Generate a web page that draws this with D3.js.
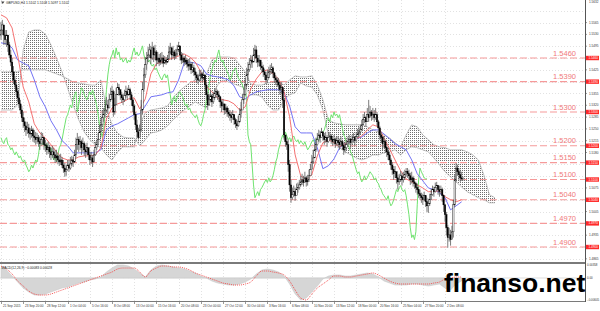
<!DOCTYPE html>
<html>
<head>
<meta charset="utf-8">
<script src="https://cdn.jsdelivr.net/npm/d3@7"></script>
<style>
  body { margin: 0; background: #fff; }
  svg { display: block; font-family: "Liberation Sans", Arial, sans-serif; }
</style>
</head>
<body>
<div id="chart"></div>
<script>
// GBPUSD H4, one value per bar
const firstOpen = 1.5528;
const close = [
  1.5543,1.5558,1.5528,1.5514,1.5528,1.5499,1.5469,1.5448,1.5419,1.5395,
  1.5380,1.5360,1.5342,1.5324,1.5306,1.5283,1.5271,1.5259,1.5247,1.5253,
  1.5238,1.5235,1.5247,1.5229,1.5224,1.5218,1.5224,1.5212,1.5206,1.5218,
  1.5224,1.5203,1.5200,1.5188,1.5194,1.5182,1.5173,1.5182,1.5173,1.5164,
  1.5170,1.5158,1.5152,1.5158,1.5143,1.5134,1.5123,1.5129,1.5143,1.5134,
  1.5146,1.5158,1.5152,1.5173,1.5203,1.5218,1.5203,1.5212,1.5194,1.5206,
  1.5188,1.5182,1.5194,1.5173,1.5158,1.5164,1.5152,1.5173,1.5194,1.5203,
  1.5218,1.5241,1.5262,1.5283,1.5292,1.5306,1.5321,1.5312,1.5336,1.5351,
  1.5360,1.5300,1.5321,1.5351,1.5372,1.5366,1.5351,1.5342,1.5336,1.5348,
  1.5360,1.5351,1.5366,1.5351,1.5336,1.5318,1.5292,1.5262,1.5241,1.5224,
  1.5247,1.5306,1.5366,1.5410,1.5440,1.5460,1.5469,1.5484,1.5460,1.5490,
  1.5469,1.5478,1.5454,1.5460,1.5448,1.5454,1.5460,1.5445,1.5454,1.5448,
  1.5457,1.5478,1.5490,1.5469,1.5478,1.5466,1.5472,1.5484,1.5496,1.5469,
  1.5454,1.5460,1.5448,1.5454,1.5442,1.5436,1.5442,1.5425,1.5431,1.5419,
  1.5410,1.5401,1.5395,1.5407,1.5413,1.5401,1.5410,1.5380,1.5351,1.5321,
  1.5336,1.5348,1.5330,1.5342,1.5354,1.5360,1.5351,1.5345,1.5330,1.5318,
  1.5324,1.5306,1.5312,1.5300,1.5294,1.5289,1.5283,1.5292,1.5277,1.5265,
  1.5259,1.5271,1.5292,1.5306,1.5336,1.5351,1.5380,1.5410,1.5425,1.5440,
  1.5454,1.5448,1.5469,1.5484,1.5460,1.5448,1.5454,1.5436,1.5431,1.5419,
  1.5410,1.5395,1.5401,1.5419,1.5425,1.5431,1.5416,1.5401,1.5395,1.5389,
  1.5380,1.5366,1.5372,1.5336,1.5232,1.5212,1.5203,1.5144,1.5084,1.5046,
  1.5055,1.5064,1.5052,1.5070,1.5076,1.5084,1.5093,1.5099,1.5091,1.5105,
  1.5093,1.5099,1.5111,1.5129,1.5152,1.5164,1.5188,1.5203,1.5218,1.5232,
  1.5224,1.5241,1.5229,1.5218,1.5224,1.5212,1.5224,1.5229,1.5218,1.5212,
  1.5218,1.5206,1.5215,1.5209,1.5203,1.5212,1.5200,1.5188,1.5194,1.5203,
  1.5212,1.5218,1.5209,1.5218,1.5224,1.5215,1.5227,1.5235,1.5241,1.5247,
  1.5262,1.5277,1.5283,1.5271,1.5292,1.5283,1.5300,1.5289,1.5294,1.5283,
  1.5292,1.5271,1.5253,1.5232,1.5224,1.5206,1.5212,1.5194,1.5182,1.5173,
  1.5158,1.5143,1.5129,1.5117,1.5123,1.5105,1.5093,1.5099,1.5111,1.5099,
  1.5105,1.5114,1.5123,1.5117,1.5111,1.5099,1.5105,1.5093,1.5088,1.5076,
  1.5070,1.5058,1.5052,1.5046,1.5040,1.5052,1.5034,1.5022,1.5028,1.5040,
  1.5055,1.5070,1.5064,1.5076,1.5082,1.5070,1.5064,1.5070,1.5052,1.5025,
  1.4996,1.4957,1.4928,1.4936,1.4922,1.4945,1.5025,1.5099,1.5134,1.5123,
  1.5114,1.5105,1.5102,1.5102
];
const high = [
  1.5567,1.5573,1.5558,1.5543,1.5543,1.5528,1.5508,1.5484,1.5460,1.5436,
  1.5407,1.5389,1.5372,1.5354,1.5336,1.5318,1.5300,1.5283,1.5271,1.5271,
  1.5265,1.5253,1.5259,1.5253,1.5247,1.5241,1.5238,1.5232,1.5227,1.5241,
  1.5238,1.5224,1.5218,1.5209,1.5212,1.5203,1.5194,1.5200,1.5194,1.5188,
  1.5188,1.5179,1.5173,1.5176,1.5167,1.5158,1.5149,1.5143,1.5158,1.5158,
  1.5167,1.5170,1.5167,1.5188,1.5224,1.5238,1.5227,1.5229,1.5218,1.5224,
  1.5212,1.5203,1.5209,1.5194,1.5182,1.5182,1.5173,1.5188,1.5212,1.5218,
  1.5238,1.5262,1.5283,1.5306,1.5312,1.5336,1.5345,1.5336,1.5354,1.5372,
  1.5378,1.5366,1.5342,1.5372,1.5386,1.5383,1.5366,1.5360,1.5354,1.5366,
  1.5378,1.5372,1.5380,1.5372,1.5360,1.5342,1.5324,1.5300,1.5277,1.5253,
  1.5262,1.5336,1.5389,1.5431,1.5463,1.5478,1.5493,1.5502,1.5496,1.5508,
  1.5496,1.5499,1.5484,1.5478,1.5472,1.5475,1.5478,1.5469,1.5466,1.5463,
  1.5469,1.5496,1.5505,1.5493,1.5496,1.5484,1.5487,1.5499,1.5508,1.5490,
  1.5478,1.5475,1.5466,1.5469,1.5460,1.5457,1.5460,1.5448,1.5448,1.5440,
  1.5431,1.5419,1.5413,1.5425,1.5425,1.5419,1.5425,1.5407,1.5389,1.5360,
  1.5354,1.5366,1.5354,1.5360,1.5369,1.5372,1.5366,1.5363,1.5348,1.5336,
  1.5339,1.5324,1.5324,1.5318,1.5312,1.5306,1.5300,1.5306,1.5294,1.5283,
  1.5277,1.5289,1.5312,1.5330,1.5354,1.5372,1.5401,1.5431,1.5448,1.5460,
  1.5469,1.5466,1.5490,1.5499,1.5496,1.5469,1.5469,1.5454,1.5448,1.5440,
  1.5428,1.5419,1.5425,1.5434,1.5440,1.5445,1.5436,1.5419,1.5410,1.5404,
  1.5401,1.5389,1.5389,1.5372,1.5342,1.5229,1.5224,1.5218,1.5158,1.5099,
  1.5076,1.5082,1.5076,1.5088,1.5091,1.5099,1.5111,1.5117,1.5111,1.5123,
  1.5111,1.5114,1.5129,1.5146,1.5173,1.5188,1.5209,1.5224,1.5238,1.5247,
  1.5244,1.5253,1.5244,1.5238,1.5241,1.5232,1.5241,1.5241,1.5235,1.5229,
  1.5232,1.5224,1.5229,1.5227,1.5221,1.5227,1.5218,1.5209,1.5212,1.5218,
  1.5227,1.5232,1.5224,1.5232,1.5238,1.5229,1.5241,1.5250,1.5256,1.5262,
  1.5277,1.5294,1.5300,1.5289,1.5312,1.5336,1.5318,1.5306,1.5312,1.5306,
  1.5312,1.5300,1.5277,1.5259,1.5241,1.5229,1.5229,1.5218,1.5200,1.5194,
  1.5182,1.5164,1.5152,1.5140,1.5140,1.5123,1.5114,1.5117,1.5126,1.5120,
  1.5123,1.5129,1.5134,1.5134,1.5129,1.5120,1.5123,1.5111,1.5105,1.5093,
  1.5088,1.5079,1.5070,1.5061,1.5058,1.5064,1.5052,1.5046,1.5043,1.5058,
  1.5073,1.5082,1.5079,1.5091,1.5093,1.5084,1.5082,1.5082,1.5076,1.5055,
  1.5028,1.5004,1.4966,1.4957,1.4951,1.4963,1.5040,1.5114,1.5149,1.5144,
  1.5134,1.5129,1.5123,1.5108
];
const low = [
  1.5514,1.5528,1.5499,1.5499,1.5493,1.5478,1.5460,1.5436,1.5407,1.5383,
  1.5372,1.5348,1.5330,1.5312,1.5294,1.5271,1.5253,1.5241,1.5229,1.5235,
  1.5224,1.5218,1.5224,1.5212,1.5209,1.5203,1.5206,1.5197,1.5188,1.5200,
  1.5203,1.5188,1.5182,1.5173,1.5176,1.5164,1.5158,1.5164,1.5158,1.5149,
  1.5152,1.5146,1.5140,1.5143,1.5134,1.5120,1.5108,1.5111,1.5126,1.5123,
  1.5129,1.5140,1.5137,1.5149,1.5164,1.5188,1.5182,1.5188,1.5173,1.5182,
  1.5170,1.5164,1.5173,1.5158,1.5143,1.5146,1.5137,1.5152,1.5170,1.5188,
  1.5200,1.5218,1.5241,1.5259,1.5271,1.5283,1.5300,1.5294,1.5312,1.5330,
  1.5336,1.5286,1.5292,1.5336,1.5351,1.5348,1.5336,1.5327,1.5321,1.5330,
  1.5342,1.5336,1.5348,1.5336,1.5318,1.5300,1.5277,1.5247,1.5227,1.5218,
  1.5224,1.5241,1.5292,1.5360,1.5401,1.5425,1.5448,1.5460,1.5442,1.5454,
  1.5448,1.5454,1.5436,1.5442,1.5436,1.5440,1.5442,1.5433,1.5442,1.5440,
  1.5445,1.5460,1.5472,1.5454,1.5460,1.5454,1.5457,1.5466,1.5478,1.5454,
  1.5442,1.5445,1.5436,1.5440,1.5431,1.5422,1.5425,1.5413,1.5416,1.5407,
  1.5395,1.5386,1.5383,1.5389,1.5395,1.5389,1.5395,1.5366,1.5336,1.5306,
  1.5318,1.5330,1.5315,1.5324,1.5336,1.5342,1.5336,1.5330,1.5312,1.5300,
  1.5306,1.5292,1.5294,1.5286,1.5283,1.5274,1.5268,1.5277,1.5262,1.5253,
  1.5247,1.5256,1.5268,1.5283,1.5306,1.5324,1.5348,1.5372,1.5395,1.5419,
  1.5431,1.5431,1.5448,1.5460,1.5445,1.5433,1.5436,1.5425,1.5416,1.5404,
  1.5395,1.5383,1.5386,1.5401,1.5410,1.5413,1.5401,1.5386,1.5380,1.5374,
  1.5366,1.5351,1.5354,1.5312,1.5218,1.5197,1.5188,1.5123,1.5064,1.5031,
  1.5040,1.5049,1.5037,1.5055,1.5061,1.5070,1.5079,1.5084,1.5079,1.5091,
  1.5079,1.5082,1.5093,1.5111,1.5134,1.5146,1.5164,1.5182,1.5200,1.5212,
  1.5209,1.5224,1.5215,1.5203,1.5209,1.5197,1.5209,1.5215,1.5206,1.5200,
  1.5203,1.5194,1.5200,1.5194,1.5188,1.5197,1.5188,1.5173,1.5179,1.5188,
  1.5197,1.5203,1.5194,1.5203,1.5209,1.5200,1.5212,1.5224,1.5227,1.5232,
  1.5247,1.5262,1.5268,1.5256,1.5277,1.5271,1.5286,1.5274,1.5277,1.5271,
  1.5277,1.5259,1.5235,1.5218,1.5209,1.5188,1.5194,1.5179,1.5167,1.5158,
  1.5143,1.5129,1.5114,1.5099,1.5105,1.5088,1.5070,1.5084,1.5093,1.5082,
  1.5091,1.5099,1.5108,1.5105,1.5099,1.5084,1.5088,1.5079,1.5073,1.5061,
  1.5055,1.5046,1.5040,1.5031,1.5025,1.5037,1.5019,1.5004,1.5001,1.5022,
  1.5040,1.5052,1.5049,1.5061,1.5067,1.5055,1.5049,1.5055,1.5034,1.5004,
  1.4975,1.4934,1.4898,1.4916,1.4904,1.4922,1.4928,1.5019,1.5093,1.5111,
  1.5099,1.5093,1.5096,1.5097
];

// Ichimoku and MACD, read every 4 bars
const sampleStep = 4;
const tenkan = [
  1.5588,1.5579,1.5549,1.5469,1.5374,1.5330,1.5265,1.5238,1.5223,1.5203,
  1.5182,1.5164,1.5158,1.5158,1.5167,1.5170,1.5170,1.5173,1.5194,1.5280,
  1.5312,1.5324,1.5330,1.5339,1.5342,1.5309,1.5339,1.5413,1.5443,1.5448,
  1.5454,1.5460,1.5466,1.5472,1.5463,1.5448,1.5419,1.5377,1.5360,1.5342,
  1.5336,1.5333,1.5324,1.5306,1.5315,1.5369,1.5398,1.5419,1.5425,1.5413,
  1.5398,1.5360,1.5286,1.5173,1.5111,1.5099,1.5114,1.5170,1.5209,1.5218,
  1.5209,1.5197,1.5206,1.5215,1.5221,1.5229,1.5247,1.5262,1.5256,1.5223,
  1.5191,1.5158,1.5126,1.5102,1.5093,1.5084,1.5075,1.5064,1.5064,1.5067,
  1.5049,1.5040,1.5034,1.5040
];
const kijun = [
  1.5505,1.5502,1.5490,1.5454,1.5445,1.5437,1.5395,1.5345,1.5315,1.5274,
  1.5247,1.5215,1.5200,1.5179,1.5179,1.5179,1.5179,1.5179,1.5188,1.5247,
  1.5259,1.5265,1.5274,1.5283,1.5292,1.5295,1.5318,1.5345,1.5348,1.5351,
  1.5357,1.5360,1.5395,1.5445,1.5448,1.5445,1.5437,1.5413,1.5407,1.5404,
  1.5401,1.5395,1.5377,1.5345,1.5339,1.5351,1.5360,1.5363,1.5366,1.5366,
  1.5366,1.5357,1.5318,1.5256,1.5238,1.5238,1.5238,1.5194,1.5132,1.5141,
  1.5161,1.5194,1.5206,1.5212,1.5221,1.5226,1.5238,1.5247,1.5247,1.5235,
  1.5221,1.5206,1.5197,1.5188,1.5158,1.5117,1.5096,1.5075,1.5070,1.5061,
  1.5046,1.5010,1.5022,1.5034
];
const senkouA = [
  1.5306,1.5306,1.5306,1.5321,1.5484,1.5537,1.5543,1.5543,1.5531,1.5499,
  1.5460,1.5419,1.5371,1.5321,1.5277,1.5241,1.5218,1.5203,1.5194,1.5173,
  1.5158,1.5182,1.5197,1.5197,1.5197,1.5262,1.5298,1.5306,1.5309,1.5312,
  1.5318,1.5342,1.5360,1.5374,1.5386,1.5395,1.5404,1.5410,1.5454,1.5463,
  1.5463,1.5463,1.5460,1.5440,1.5419,1.5383,1.5380,1.5380,1.5386,1.5389,
  1.5389,1.5380,1.5395,1.5407,1.5404,1.5404,1.5407,1.5380,1.5336,1.5277,
  1.5268,1.5265,1.5262,1.5262,1.5262,1.5262,1.5256,1.5247,1.5241,1.5232,
  1.5223,1.5209,1.5197,1.5232,1.5262,1.5256,1.5232,1.5218,1.5203,1.5197,
  1.5194,1.5188,1.5188,1.5188,1.5182,1.5173,1.5158,1.5114,1.5055,1.5046
];
const senkouB = [
  1.5419,1.5419,1.5419,1.5419,1.5425,1.5425,1.5425,1.5425,1.5425,1.5419,
  1.5413,1.5407,1.5398,1.5389,1.5386,1.5383,1.5380,1.5380,1.5395,1.5312,
  1.5262,1.5238,1.5226,1.5223,1.5223,1.5200,1.5218,1.5238,1.5241,1.5247,
  1.5259,1.5277,1.5292,1.5306,1.5318,1.5330,1.5321,1.5312,1.5336,1.5380,
  1.5395,1.5389,1.5383,1.5377,1.5371,1.5351,1.5351,1.5345,1.5321,1.5306,
  1.5306,1.5336,1.5351,1.5357,1.5386,1.5377,1.5374,1.5351,1.5306,1.5232,
  1.5218,1.5194,1.5182,1.5173,1.5164,1.5158,1.5164,1.5173,1.5173,1.5179,
  1.5182,1.5188,1.5173,1.5188,1.5197,1.5194,1.5188,1.5182,1.5164,1.5144,
  1.5123,1.5108,1.5093,1.5078,1.5064,1.5055,1.5046,1.5040,1.5031,1.5031
];
const macdMain = [
  0.00275,0.00220,0.00055,-0.00110,-0.00275,-0.00385,-0.00468,-0.00468,-0.00440,-0.00385,
  -0.00330,-0.00275,-0.00248,-0.00193,-0.00138,-0.00110,-0.00055,-0.00028,0.00028,0.00165,
  0.00275,0.00358,0.00358,0.00330,0.00248,0.00138,0.00028,0.00220,0.00330,0.00358,
  0.00330,0.00303,0.00275,0.00248,0.00193,0.00138,0.00055,0,-0.00083,-0.00138,
  -0.00165,-0.00193,-0.00193,-0.00165,-0.00110,-0.00028,0.00110,0.00220,0.00248,0.00220,
  0.00165,0.00055,-0.00165,-0.00440,-0.00605,-0.00550,-0.00385,-0.00220,-0.00028,0.00055,
  0.00083,0.00083,0.00055,0.00055,0.00083,0.00110,0.00138,0.00110,0.00028,-0.00083,
  -0.00138,-0.00193,-0.00193,-0.00193,-0.00165,-0.00165,-0.00193,-0.00220,-0.00193,-0.00165,
  -0.00275,-0.00330,-0.00165,-0.00083
];
const macdSignal = [
  0.00330,0.00248,0.00110,-0.00083,-0.00220,-0.00358,-0.00440,-0.00468,-0.00468,-0.00440,
  -0.00385,-0.00330,-0.00275,-0.00220,-0.00165,-0.00110,-0.00055,0,0.00055,0.00110,
  0.00165,0.00248,0.00275,0.00275,0.00275,0.00165,0.00028,0.00193,0.00275,0.00330,
  0.00330,0.00303,0.00303,0.00275,0.00220,0.00138,0.00083,0.00028,-0.00028,-0.00083,
  -0.00138,-0.00165,-0.00193,-0.00193,-0.00165,-0.00110,0.00055,0.00193,0.00193,0.00165,
  0.00138,0.00083,-0.00083,-0.00330,-0.00550,-0.00605,-0.00440,-0.00275,-0.00165,-0.00055,
  0.00055,0.00055,0.00028,0.00028,0.00055,0.00083,0.00110,0.00138,0.00083,0,
  -0.00083,-0.00138,-0.00165,-0.00165,-0.00165,-0.00165,-0.00165,-0.00165,-0.00138,-0.00110,
  -0.00028,0,0.00028,0.00028
];

const levels = [1.5460, 1.5390, 1.5300, 1.5200, 1.5150, 1.5100, 1.5040, 1.4970, 1.4900];
const priceTicks = [1.4865,1.4900,1.4935,1.4970,1.5005,1.5040,1.5075,1.5110,1.5145,1.5180,1.5215,
                    1.5250,1.5285,1.5320,1.5355,1.5390,1.5425,1.5460,1.5495,1.5530,1.5565,1.5600];
const topPrice = 1.5632;
const macdTicks = [0.00358, 0, -0.00605];
const dateLabels = ['21 Sep 2015','23 Sep 20:00','28 Sep 12:00','1 Oct 04:00','5 Oct 16:00','8 Oct 08:00',
  '13 Oct 00:00','15 Oct 16:00','20 Oct 08:00','23 Oct 00:00','27 Oct 12:00','30 Oct 04:00','3 Nov 16:00',
  '6 Nov 08:00','10 Nov 20:00','13 Nov 12:00','18 Nov 00:00','20 Nov 16:00','25 Nov 04:00','27 Nov 20:00','2 Dec 08:00'];
const barsPerLabel = 16;
const symbol = 'GBPUSD,H4';
const watermark = 'finanso.net';

const width = 600, height = 311;
const axisX = 585;
const mainBottom = 262;
const macdTop = 264, macdBottom = 301;
const tinyFont = 3.1;

const xScale = d3.scaleLinear().domain([0, 420]).range([1, 583.75]);
const yScale = d3.scaleLinear().domain([1.48556, 1.56319]).range([mainBottom, 0]);
const mScale = d3.scaleLinear().domain([-0.00605, 0.00358]).range([300, 265]);
const f4 = d3.format('.4f');
const f5 = d3.format('.5f');

const svg = d3.select('#chart').append('svg')
  .attr('width', width).attr('height', height);

const defs = svg.append('defs');
const pat = defs.append('pattern').attr('id', 'kumo')
  .attr('patternUnits', 'userSpaceOnUse').attr('width', 2).attr('height', 2);
pat.append('rect').attr('width', 1).attr('height', 1).attr('fill', '#6e6e6e');
defs.append('clipPath').attr('id', 'mainClip')
  .append('rect').attr('width', axisX).attr('height', mainBottom);
defs.append('clipPath').attr('id', 'macdClip')
  .append('rect').attr('y', macdTop).attr('width', axisX).attr('height', macdBottom - macdTop);

// grid
const grid = svg.append('g').attr('stroke', '#cfcfcf').attr('stroke-dasharray', '1,2').attr('stroke-width', 0.6);
dateLabels.forEach((d, k) => {
  const gx = Math.round(xScale(k * barsPerLabel)) + 0.5;
  grid.append('line').attr('x1', gx).attr('x2', gx).attr('y1', 0).attr('y2', macdBottom);
});
priceTicks.forEach(t => {
  const gy = Math.round(yScale(t)) + 0.5;
  grid.append('line').attr('x1', 0).attr('x2', axisX).attr('y1', gy).attr('y2', gy);
});

// main panel
const main = svg.append('g').attr('clip-path', 'url(#mainClip)');

const kumo = d3.area()
  .x((d, k) => xScale(k * sampleStep))
  .y0((d, k) => yScale(senkouB[k]))
  .y1(d => yScale(d));
main.append('path').datum(senkouA).attr('d', kumo).attr('fill', 'url(#kumo)');
[senkouA, senkouB].forEach(s => {
  main.append('path').datum(s)
    .attr('d', d3.line().x((d, k) => xScale(k * sampleStep)).y(d => yScale(d)))
    .attr('fill', 'none').attr('stroke', '#9a9a9a').attr('stroke-width', 0.6);
});

levels.forEach(l => {
  main.append('line')
    .attr('x1', 0).attr('x2', axisX)
    .attr('y1', yScale(l)).attr('y2', yScale(l))
    .attr('stroke', '#f59a9a').attr('stroke-width', 1.2)
    .attr('stroke-dasharray', '7,3');
});

const sampleLine = d3.line().x((d, k) => xScale(k * sampleStep)).y(d => yScale(d));
main.append('path').datum(close.slice(26))
  .attr('d', d3.line().x((d, i) => xScale(i)).y(d => yScale(d)))
  .attr('fill', 'none').attr('stroke', '#6fe36f').attr('stroke-width', 1);
main.append('path').datum(kijun).attr('d', sampleLine)
  .attr('fill', 'none').attr('stroke', '#7373f5').attr('stroke-width', 1);
main.append('path').datum(tenkan).attr('d', sampleLine)
  .attr('fill', 'none').attr('stroke', '#f57272').attr('stroke-width', 1);

// candles
const bars = close.map((c, i) => ({
  i, c, o: i ? close[i - 1] : firstOpen, h: high[i], l: low[i]
}));
const candle = main.selectAll('.candle').data(bars).enter().append('g').attr('class', 'candle');
candle.append('line')
  .attr('x1', d => xScale(d.i)).attr('x2', d => xScale(d.i))
  .attr('y1', d => yScale(Math.max(d.h, d.o, d.c)))
  .attr('y2', d => yScale(Math.min(d.l, d.o, d.c)))
  .attr('stroke', '#5a5a5a').attr('stroke-width', 0.8);
candle.append('rect')
  .attr('x', d => xScale(d.i) - 0.7).attr('width', 1.4)
  .attr('y', d => yScale(Math.max(d.o, d.c)))
  .attr('height', d => Math.max(0.8, Math.abs(yScale(d.o) - yScale(d.c))))
  .attr('fill', d => d.c >= d.o ? '#fff' : '#000')
  .attr('stroke', '#000').attr('stroke-width', 0.4);

levels.forEach(l => {
  svg.append('text')
    .attr('x', 576).attr('y', yScale(l) - 2.5)
    .attr('text-anchor', 'end')
    .attr('font-size', 7.5).attr('fill', '#f07a7a')
    .text(f4(l));
});

// header
const last = bars[bars.length - 1];
svg.append('path').attr('d', 'M1,1.5 L4.5,1.5 L2.75,4 Z').attr('fill', '#444');
svg.append('text').attr('x', 6).attr('y', 4.2).attr('font-size', 3.3).attr('fill', '#222')
  .text(`${symbol}  ${f4(last.o)} ${f4(last.h)} ${f4(last.l)} ${f4(last.c)}`);

// MACD panel
const macd = svg.append('g').attr('clip-path', 'url(#macdClip)');
macd.append('line').attr('x1', 0).attr('x2', axisX)
  .attr('y1', mScale(0)).attr('y2', mScale(0))
  .attr('stroke', '#c8c8c8').attr('stroke-width', 0.6);
macd.append('path').datum(macdMain)
  .attr('d', d3.area().x((d, k) => xScale(k * sampleStep)).y0(mScale(0)).y1(d => mScale(d)))
  .attr('fill', '#d6d6d6').attr('stroke', '#c4c4c4').attr('stroke-width', 0.5);
macd.append('path').datum(macdSignal)
  .attr('d', d3.line().curve(d3.curveMonotoneX).x((d, k) => xScale(k * sampleStep)).y(d => mScale(d)))
  .attr('fill', 'none').attr('stroke', '#f24848').attr('stroke-width', 0.9)
  .attr('stroke-dasharray', '1,1');
svg.append('text').attr('x', 1.5).attr('y', 268.5).attr('font-size', 3.3).attr('fill', '#222')
  .text(`MACD(12,26,9) ${f5(macdMain[macdMain.length - 1])} ${f5(macdSignal[macdSignal.length - 1])}`);

// panel frames
svg.append('rect').attr('x', 0).attr('y', mainBottom).attr('width', axisX).attr('height', 2).attr('fill', '#7a7a7a');
svg.append('line').attr('x1', 0).attr('x2', axisX).attr('y1', macdBottom + 0.5).attr('y2', macdBottom + 0.5)
  .attr('stroke', '#7a7a7a').attr('stroke-width', 1);
svg.append('line').attr('x1', axisX + 0.5).attr('x2', axisX + 0.5).attr('y1', 0).attr('y2', macdBottom + 1)
  .attr('stroke', '#555').attr('stroke-width', 1);

// price axis
const axisG = svg.append('g').attr('font-size', tinyFont).attr('fill', '#333');
priceTicks.forEach(t => {
  const ty = yScale(t);
  if (levels.some(l => Math.abs(yScale(l) - ty) < 4) || ty < 12) return;
  axisG.append('line').attr('x1', axisX).attr('x2', axisX + 2).attr('y1', ty).attr('y2', ty)
    .attr('stroke', '#555').attr('stroke-width', 0.6);
  axisG.append('text').attr('x', axisX + 4).attr('y', ty + 1.1).text(f4(t));
});
axisG.append('text').attr('x', axisX + 4).attr('y', yScale(topPrice) + 3.5).text(f4(topPrice));
levels.forEach(l => {
  const ly = yScale(l);
  svg.append('rect').attr('x', axisX + 1).attr('y', ly - 2.2).attr('width', 13).attr('height', 4.4)
    .attr('fill', '#ff2a2a');
  svg.append('text').attr('x', axisX + 3.5).attr('y', ly + 1.1).attr('font-size', tinyFont)
    .attr('fill', '#fff').text(f4(l));
});
macdTicks.forEach(t => {
  axisG.append('text').attr('x', axisX + 2).attr('y', mScale(t) + 1.1)
    .attr('font-size', 2.9)
    .text(t === 0 ? '0.00' : f5(t));
});

// time axis
const timeG = svg.append('g').attr('font-size', tinyFont).attr('fill', '#333');
dateLabels.forEach((d, k) => {
  const tx = Math.round(xScale(k * barsPerLabel)) + 0.5;
  timeG.append('line').attr('x1', tx).attr('x2', tx).attr('y1', macdBottom + 1).attr('y2', macdBottom + 3)
    .attr('stroke', '#555').attr('stroke-width', 0.6);
  timeG.append('text').attr('x', tx + 1.5).attr('y', 306.5).text(d);
});

// watermark
svg.append('text').attr('x', 444).attr('y', 292)
  .attr('font-size', 26.5).attr('font-weight', 'bold').attr('fill', '#000')
  .text(watermark);
</script>
</body>
</html>
